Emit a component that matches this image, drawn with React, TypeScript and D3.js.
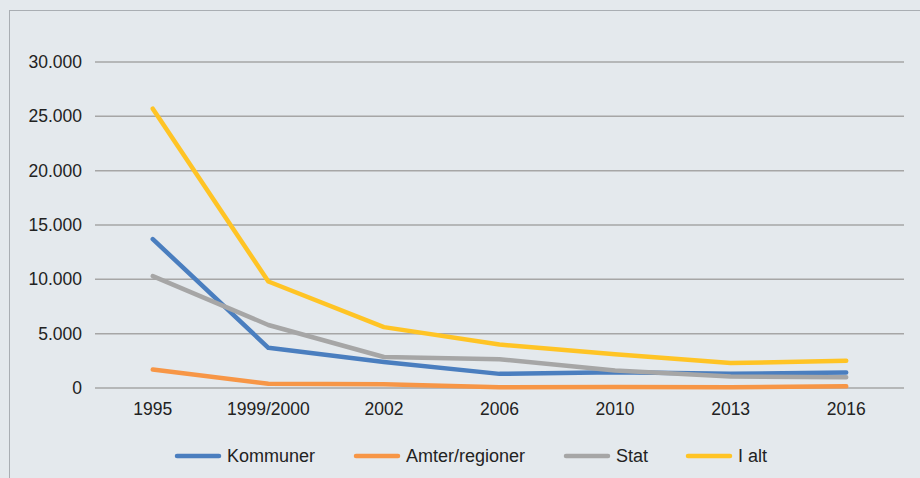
import React from "react";
import * as d3 from "d3";

const years = ["1995", "1999/2000", "2002", "2006", "2010", "2013", "2016"];
const kommuner = [13700, 3700, 2400, 1300, 1450, 1300, 1420];
const amter = [1700, 400, 350, 60, 100, 60, 150];
const stat = [10300, 5800, 2850, 2650, 1600, 1050, 980];
const iAlt = [25700, 9800, 5600, 4000, 3100, 2300, 2500];
const yTicks = [0, 5000, 10000, 15000, 20000, 25000, 30000];

const seriesNames = ["Kommuner", "Amter/regioner", "Stat", "I alt"];
const seriesColors = ["#4a7ebf", "#f79646", "#a6a6a6", "#ffc425"];
const seriesValues = [kommuner, amter, stat, iAlt];

const width = 920;
const height = 478;
const font = "'Liberation Sans', Arial, sans-serif";

const App = () => {
  const x = d3.scalePoint<string>().domain(years).range([95, 904]).padding(0.5);
  const y = d3.scaleLinear().domain([0, 30000]).range([388, 62]);
  const fmt = (v: number) => d3.format(",")(v).replace(/,/g, ".");

  const line = d3
    .line<number>()
    .x((_, i) => x(years[i]) as number)
    .y((d) => y(d));

  const legendX = [177, 356, 566, 688];

  return (
    <svg
      width={width}
      height={height}
      style={{ position: "absolute", left: 0, top: 0, background: "#e4e9ed" }}
    >
      <rect x={9.5} y={10.5} width={width + 10} height={height + 10} fill="none" stroke="#a9aeb3" strokeWidth={1} />
      {yTicks.map((t) => (
        <g key={t}>
          <line x1={95} x2={904} y1={y(t)} y2={y(t)} stroke="#a6a6a6" strokeWidth={1.5} />
          <text x={82} y={y(t)} dy="0.35em" textAnchor="end" fontFamily={font} fontSize={17.5} fill="#222">
            {fmt(t)}
          </text>
        </g>
      ))}
      {years.map((yr) => (
        <text key={yr} x={x(yr)} y={415} textAnchor="middle" fontFamily={font} fontSize={17.5} fill="#222">
          {yr}
        </text>
      ))}
      {seriesValues.map((vals, i) => (
        <path
          key={seriesNames[i]}
          d={line(vals) || ""}
          fill="none"
          stroke={seriesColors[i]}
          strokeWidth={4.5}
          strokeLinejoin="round"
          strokeLinecap="round"
        />
      ))}
      {seriesNames.map((name, i) => (
        <g key={name} transform={`translate(${legendX[i]},456)`}>
          <line x1={0} x2={42} y1={0} y2={0} stroke={seriesColors[i]} strokeWidth={4.5} strokeLinecap="round" />
          <text x={50} y={0} dy="0.35em" fontFamily={font} fontSize={18} fill="#222">
            {name}
          </text>
        </g>
      ))}
    </svg>
  );
};

export default App;
